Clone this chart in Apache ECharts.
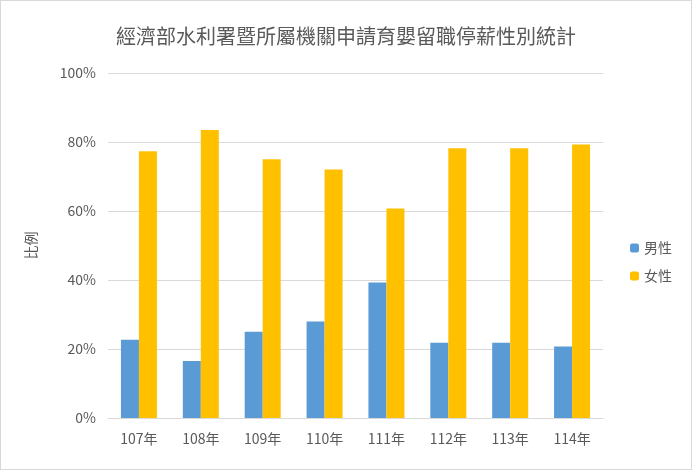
<!DOCTYPE html>
<html>
<head>
<meta charset="utf-8">
<script src="https://cdn.jsdelivr.net/npm/echarts@6/dist/echarts.min.js"></script>
<style>
  html, body { margin: 0; padding: 0; background: #fff; }
  #chart { width: 690px; height: 468px; border: 1px solid #d9d9d9; }
</style>
</head>
<body>
<div id="chart"></div>
<script>
const years = ['107年', '108年', '109年', '110年', '111年', '112年', '113年', '114年'];
const male = [22.7, 16.5, 25.0, 28.0, 39.3, 21.8, 21.8, 20.7];
const female = [77.3, 83.5, 75.0, 72.0, 60.7, 78.2, 78.2, 79.3];

const font = '"Noto Sans CJK TC", "Microsoft JhengHei", sans-serif';
const chart = echarts.init(document.getElementById('chart'));
chart.setOption({
  animation: false,
  textStyle: { fontFamily: font },
  title: {
    text: '經濟部水利署暨所屬機關申請育嬰留職停薪性別統計',
    left: 'center',
    top: 20,
    textStyle: { fontSize: 20, fontWeight: 'normal', color: '#595959', fontFamily: font }
  },
  legend: {
    orient: 'vertical',
    left: 624,
    top: 235,
    itemWidth: 9,
    itemHeight: 9,
    itemGap: 14,
    textStyle: { fontSize: 14, color: '#595959' },
    data: ['男性', '女性']
  },
  grid: { left: 107, right: 88, top: 72, bottom: 51 },
  xAxis: {
    type: 'category',
    data: years,
    axisLine: { lineStyle: { color: '#d9d9d9' } },
    axisTick: { show: false },
    axisLabel: { color: '#595959', fontSize: 14, margin: 14 }
  },
  yAxis: {
    type: 'value',
    min: 0,
    max: 100,
    interval: 20,
    name: '比例',
    nameLocation: 'middle',
    nameGap: 70,
    nameTextStyle: { color: '#595959', fontSize: 14 },
    axisLine: { show: false },
    axisTick: { show: false },
    axisLabel: { formatter: '{value}%', color: '#595959', fontSize: 14, margin: 12 },
    splitLine: { lineStyle: { color: '#d9d9d9' } }
  },
  series: [
    { name: '男性', type: 'bar', data: male, barWidth: 18, barGap: '0%', itemStyle: { color: '#5B9BD5' } },
    { name: '女性', type: 'bar', data: female, barWidth: 18, itemStyle: { color: '#FFC000' } }
  ]
});
</script>
</body>
</html>
